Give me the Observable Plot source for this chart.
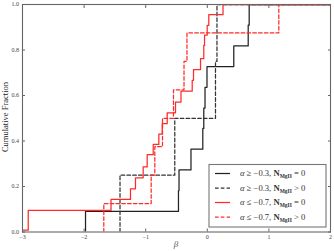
<!DOCTYPE html>
<html><head><meta charset="utf-8">
<script src="https://cdn.jsdelivr.net/npm/d3@7"></script>
<script src="https://cdn.jsdelivr.net/npm/@observablehq/plot@0.6"></script>
<style>
body{margin:0;background:#fff}
#chart{position:relative;width:334px;height:251px}
</style>
</head><body><div id="chart"></div>
<script>
// beta values at each step (sorted) and cumulative fraction reached there
const blackSolidBeta = [-1.977, -0.468, -0.459, -0.265, -0.073, -0.057, -0.037, -0.005, 0.430, 0.664, 0.680];
const blackSolidFrac = [0.091, 0.182, 0.273, 0.364, 0.455, 0.545, 0.636, 0.727, 0.818, 0.909, 1.0];

const blackDashBeta = [-1.417, -0.528, 0.133, 0.157];
const blackDashFrac = [0.25, 0.50, 0.75, 1.0];

const redSolidBeta = [-3.5, -2.907, -1.563, -1.247, -1.166, -1.041, -0.976, -0.878, -0.787, -0.732, -0.651, -0.516, -0.427, -0.245, -0.224, -0.110, -0.057, -0.045, -0.002, 0.024, 0.255];
const redSolidFrac = [0.008, 0.095, 0.143, 0.190, 0.238, 0.286, 0.340, 0.385, 0.430, 0.476, 0.524, 0.571, 0.619, 0.667, 0.714, 0.762, 0.820, 0.865, 0.908, 0.955, 1.0];

const redDashBeta = [-1.680, -0.911, -0.852, -0.727, -0.549, -0.378, -0.330, 1.161];
const redDashFrac = [0.125, 0.25, 0.375, 0.50, 0.625, 0.75, 0.875, 1.0];

const xTicks = [-3, -2, -1, 0, 1, 2];
const yTicks = [0, 0.2, 0.4, 0.6, 0.8, 1.0];
const seriesLabels = [
  {alpha: "α ≥ −0.3, ", rel: " = 0"},
  {alpha: "α ≥ −0.3, ", rel: " > 0"},
  {alpha: "α ≤ −0.7, ", rel: " = 0"},
  {alpha: "α ≤ −0.7, ", rel: " > 0"}
];

function curve(betas, fracs) {
  const rows = [{beta: betas[0], frac: 0}];
  betas.forEach((b, i) => rows.push({beta: b, frac: fracs[i]}));
  rows.push({beta: 3, frac: 1});
  return rows;
}

const styles = [
  {stroke: "#222", dash: null},
  {stroke: "#333", dash: "3.6,2.2"},
  {stroke: "#ff2a2a", dash: null},
  {stroke: "#ff2a2a", dash: "3.6,2.2"}
];
const curves = [
  curve(blackSolidBeta, blackSolidFrac),
  curve(blackDashBeta, blackDashFrac),
  curve(redSolidBeta, redSolidFrac),
  curve(redDashBeta, redDashFrac)
];

const font = "'Liberation Serif', 'DejaVu Serif', serif";
const plot = Plot.plot({
  width: 334, height: 251,
  marginLeft: 22, marginRight: 4, marginTop: 4, marginBottom: 19.5,
  style: {fontFamily: font, background: "#fff", overflow: "visible"},
  x: {domain: [-3, 2], label: null},
  y: {domain: [0, 1], label: null},
  marks: [
    ...curves.map((c, i) => Plot.line(c, {x: "beta", y: "frac", curve: "step-after", clip: true,
      stroke: styles[i].stroke, strokeWidth: 1.25, strokeDasharray: styles[i].dash})),
    Plot.axisX(xTicks, {anchor: "bottom", tickSize: -3, tickPadding: 5.5, fontSize: 6, stroke: "#666", fill: "#444",
      tickFormat: d => d < 0 ? "−" + Math.abs(d) : String(d)}),
    Plot.axisX(xTicks, {anchor: "top", tickSize: -3, stroke: "#666", tickFormat: () => ""}),
    Plot.axisY(yTicks, {anchor: "left", tickSize: -3, tickPadding: 6.5, fontSize: 6, stroke: "#666", fill: "#444",
      tickFormat: d => d.toFixed(1)}),
    Plot.axisY(yTicks, {anchor: "right", tickSize: -3, stroke: "#666", tickFormat: () => ""}),
    Plot.frame({stroke: "#666", strokeWidth: 1.1})
  ]
});
document.getElementById("chart").appendChild(plot);

const svg = d3.select(plot);
// axis titles
svg.append("text").attr("transform", "translate(6,117) rotate(-90)")
  .attr("text-anchor", "middle").attr("dominant-baseline", "middle")
  .attr("font-family", font).attr("font-size", 8.5).attr("fill", "#222")
  .text("Cumulative Fraction");
svg.append("text").attr("x", 176).attr("y", 247)
  .attr("text-anchor", "middle")
  .attr("font-family", font).attr("font-size", 9).attr("font-style", "italic").attr("fill", "#555")
  .text("β");

// legend
const lg = svg.append("g").attr("text-anchor", "start");
lg.append("rect").attr("x", 209).attr("y", 164.5).attr("width", 117).attr("height", 62.5)
  .attr("fill", "#fff").attr("stroke", "#777").attr("stroke-width", 1.1);
seriesLabels.forEach((s, i) => {
  const y = 173.5 + i * 14.5;
  lg.append("line").attr("x1", 215).attr("x2", 230).attr("y1", y).attr("y2", y)
    .attr("stroke", styles[i].stroke).attr("stroke-width", 1.25)
    .attr("stroke-dasharray", styles[i].dash);
  const t = lg.append("text").attr("x", 240).attr("y", y).attr("dy", "0.33em")
    .attr("text-anchor", "start")
    .attr("font-family", font).attr("font-size", 8.6).attr("fill", "#333");
  t.append("tspan").attr("font-style", "italic").text("α");
  t.append("tspan").text(s.alpha.slice(1));
  t.append("tspan").attr("font-weight", "bold").text("N");
  t.append("tspan").attr("font-weight", "bold").attr("font-size", 5.5).attr("dy", "2").text("MgII");
  t.append("tspan").attr("dy", "-2").text(s.rel);
});
</script>
</body></html>
